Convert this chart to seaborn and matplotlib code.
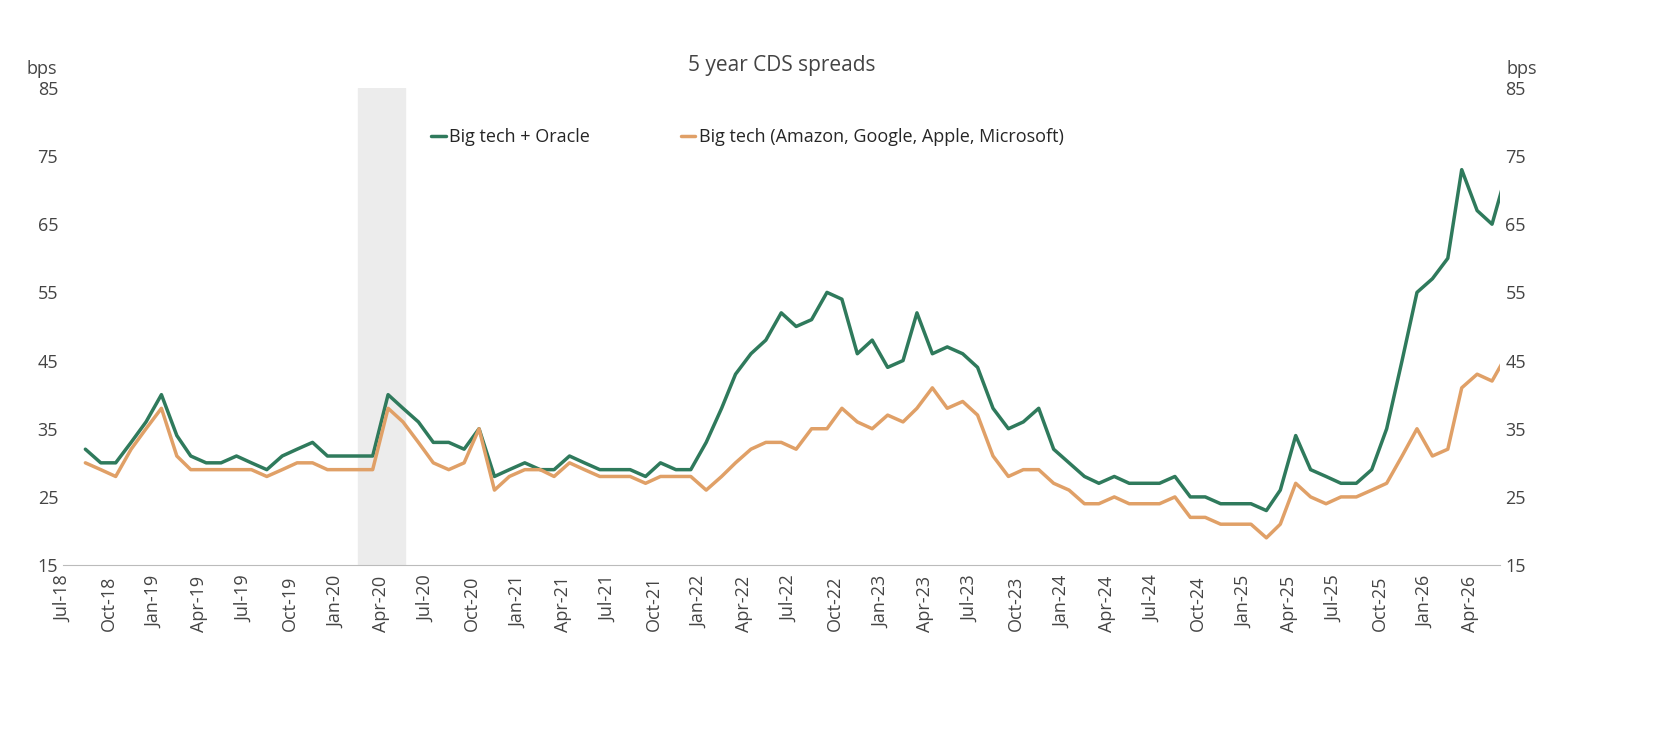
import pandas as pd
import matplotlib.pyplot as plt
import matplotlib.dates as mdates
import seaborn as sns

# Monthly readings, Jul-2018 .. May-2026 (bps)
start = "2018-07-15"
big_tech_oracle = [
    32, 30, 30, 33, 36, 40,
    34, 31, 30, 30, 31, 30, 29, 31, 32, 33, 31, 31,
    31, 31, 40, 38, 36, 33, 33, 32, 35, 28, 29, 30,
    29, 29, 31, 30, 29, 29, 29, 28, 30, 29, 29, 33,
    38, 43, 46, 48, 52, 50, 51, 55, 54, 46, 48, 44,
    45, 52, 46, 47, 46, 44, 38, 35, 36, 38, 32, 30,
    28, 27, 28, 27, 27, 27, 28, 25, 25, 24, 24, 24,
    23, 26, 34, 29, 28, 27, 27, 29, 35, 45, 55, 57,
    60, 73, 67, 65, 73,
]
big_tech = [
    30, 29, 28, 32, 35, 38,
    31, 29, 29, 29, 29, 29, 28, 29, 30, 30, 29, 29,
    29, 29, 38, 36, 33, 30, 29, 30, 35, 26, 28, 29,
    29, 28, 30, 29, 28, 28, 28, 27, 28, 28, 28, 26,
    28, 30, 32, 33, 33, 32, 35, 35, 38, 36, 35, 37,
    36, 38, 41, 38, 39, 37, 31, 28, 29, 29, 27, 26,
    24, 24, 25, 24, 24, 24, 25, 22, 22, 21, 21, 21,
    19, 21, 27, 25, 24, 25, 25, 26, 27, 31, 35, 31,
    32, 41, 43, 42, 46,
]
dates = pd.date_range(start, periods=len(big_tech_oracle), freq="MS") + pd.Timedelta(days=14)
df = pd.DataFrame({"date": dates, "Big tech + Oracle": big_tech_oracle,
                   "Big tech (Amazon, Google, Apple, Microsoft)": big_tech})
long = df.melt("date", var_name="series", value_name="bps")

sns.set_style("white")
plt.rcParams['font.family'] = ['Open Sans', 'DejaVu Sans']
fig, ax = plt.subplots(figsize=(16.58, 7.32), dpi=100)

ax.axvspan(pd.Timestamp("2020-02-15"), pd.Timestamp("2020-05-20"), color="#ececec", zorder=0)
sns.lineplot(data=long, x="date", y="bps", hue="series", ax=ax, linewidth=2.5,
             palette=["#2f7a5c", "#e0a067"])

ax.set_ylim(15, 85)
ax.set_yticks(range(15, 86, 10))
ax.set_xlim(pd.Timestamp("2018-07-01"), pd.Timestamp("2026-06-01"))
ax.xaxis.set_major_locator(mdates.MonthLocator(bymonth=[1, 4, 7, 10]))
ax.xaxis.set_major_formatter(mdates.DateFormatter("%b-%y"))
plt.setp(ax.get_xticklabels(), rotation=90, fontsize=13, color="#444444")
ax.tick_params(axis="y", labelsize=13, colors="#444444", length=0)
ax.tick_params(axis="x", length=4, color="#999999")
ax.set_xlabel("")
ax.set_ylabel("")
for s in ["top", "right", "left"]:
    ax.spines[s].set_visible(False)
ax.spines["bottom"].set_color("#bbbbbb")

ax2 = ax.twinx()
ax2.set_ylim(15, 85)
ax2.set_yticks(range(15, 86, 10))
ax2.tick_params(axis="y", labelsize=13, colors="#444444", length=0)
for s in ax2.spines.values():
    s.set_visible(False)

ax.text(-0.015, 1.03, "bps", transform=ax.transAxes, fontsize=13, color="#444444", ha="center")
ax2.text(1.015, 1.03, "bps", transform=ax.transAxes, fontsize=13, color="#444444", ha="center")
ax.set_title("5 year CDS spreads", fontsize=15, color="#444444", pad=12)
ax.legend(loc="upper left", bbox_to_anchor=(0.245, 0.95), ncol=2, frameon=False,
          fontsize=13, handlelength=0.8, handletextpad=0.2, columnspacing=5, title=None)

fig.subplots_adjust(left=0.038, right=0.905, top=0.88, bottom=0.228)
fig.savefig("out.png", dpi=100)
